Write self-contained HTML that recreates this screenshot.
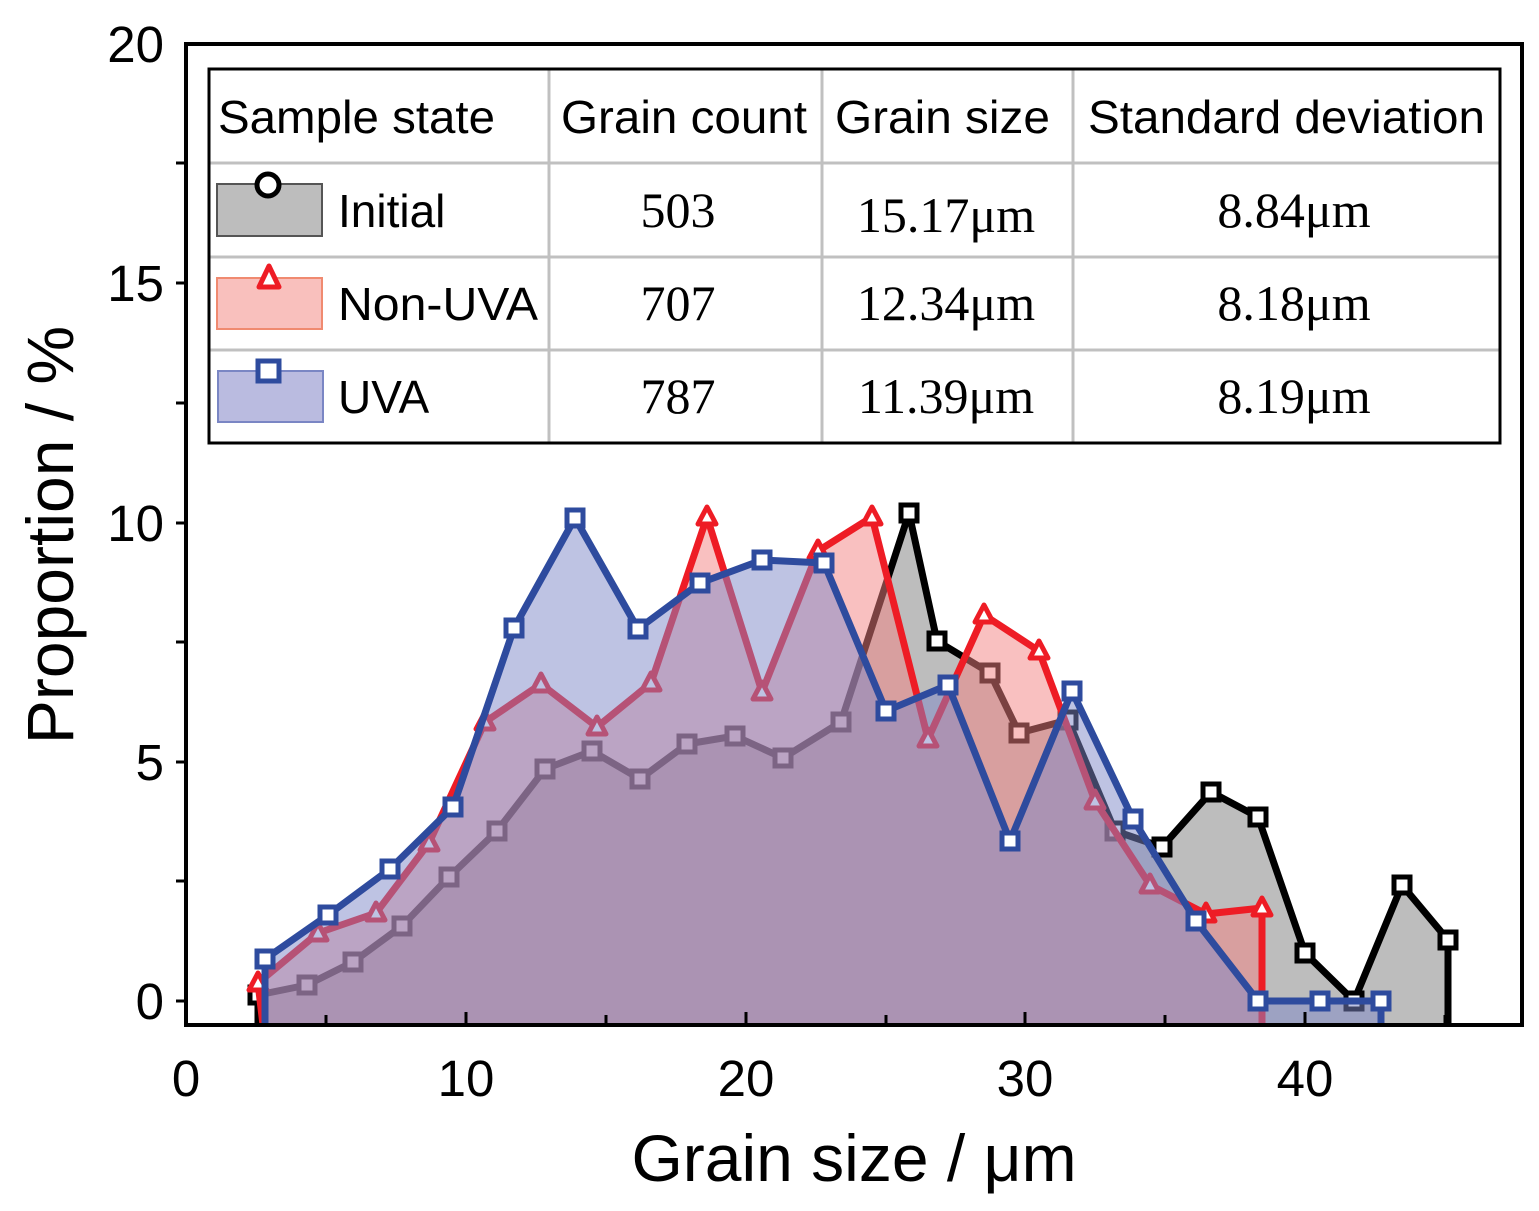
<!DOCTYPE html>
<html><head><meta charset="utf-8"><style>
html,body{margin:0;padding:0;background:#fff;}
svg{display:block;font-family:"Liberation Sans",sans-serif;}
</style></head><body>
<svg width="1539" height="1211" viewBox="0 0 1539 1211" xmlns="http://www.w3.org/2000/svg">
<defs><clipPath id="c"><rect x="186" y="44" width="1336" height="981"/></clipPath></defs>
<g clip-path="url(#c)">
<polygon fill="#bdbdbd" points="258,1025 258,995 307,985 353,962 402,926 449,877 497,831 545,769 592,751 640,779 687,744 735,736 783,758 841,722 909,513 937,641 990,673 1019,733 1068,720 1115,831 1162,847 1211,792 1258,817 1305,953 1354,1001 1402,885 1448,940 1448,1025"/>
<polyline fill="none" stroke="#000" stroke-width="7" stroke-linejoin="round" points="258,1025 258,995 307,985 353,962 402,926 449,877 497,831 545,769 592,751 640,779 687,744 735,736 783,758 841,722 909,513 937,641 990,673 1019,733 1068,720 1115,831 1162,847 1211,792 1258,817 1305,953 1354,1001 1402,885 1448,940 1448,1025"/>
<g fill="#fff" stroke="#000" stroke-width="5">
<rect x="250" y="987" width="16" height="16"/><rect x="299" y="977" width="16" height="16"/><rect x="345" y="954" width="16" height="16"/><rect x="394" y="918" width="16" height="16"/><rect x="441" y="869" width="16" height="16"/><rect x="489" y="823" width="16" height="16"/><rect x="537" y="761" width="16" height="16"/><rect x="584" y="743" width="16" height="16"/><rect x="632" y="771" width="16" height="16"/><rect x="679" y="736" width="16" height="16"/><rect x="727" y="728" width="16" height="16"/><rect x="775" y="750" width="16" height="16"/><rect x="833" y="714" width="16" height="16"/><rect x="901" y="505" width="16" height="16"/><rect x="929" y="633" width="16" height="16"/><rect x="982" y="665" width="16" height="16"/><rect x="1011" y="725" width="16" height="16"/><rect x="1060" y="712" width="16" height="16"/><rect x="1107" y="823" width="16" height="16"/><rect x="1154" y="839" width="16" height="16"/><rect x="1203" y="784" width="16" height="16"/><rect x="1250" y="809" width="16" height="16"/><rect x="1297" y="945" width="16" height="16"/><rect x="1346" y="993" width="16" height="16"/><rect x="1394" y="877" width="16" height="16"/><rect x="1440" y="932" width="16" height="16"/>
</g>
<polygon fill="rgba(244,130,130,0.5)" points="263,1025 258,983 318,933 376,913 429,843 485,722 541,684 597,727 651,683 707,517 762,692 818,551 872,517 928,739 984,615 1039,651 1095,801 1150,885 1206,914 1262,908 1262,1025"/>
<polyline fill="none" stroke="#ee1c25" stroke-width="7" stroke-linejoin="round" points="263,1025 258,983 318,933 376,913 429,843 485,722 541,684 597,727 651,683 707,517 762,692 818,551 872,517 928,739 984,615 1039,651 1095,801 1150,885 1206,914 1262,908 1262,1025"/>
<g fill="#fff" stroke="#ee1c25" stroke-width="5" stroke-linejoin="round">
<polygon points="258,973 249,990 267,990"/><polygon points="318,923 309,940 327,940"/><polygon points="376,903 367,920 385,920"/><polygon points="429,833 420,850 438,850"/><polygon points="485,712 476,729 494,729"/><polygon points="541,674 532,691 550,691"/><polygon points="597,717 588,734 606,734"/><polygon points="651,673 642,690 660,690"/><polygon points="707,507 698,524 716,524"/><polygon points="762,682 753,699 771,699"/><polygon points="818,541 809,558 827,558"/><polygon points="872,507 863,524 881,524"/><polygon points="928,729 919,746 937,746"/><polygon points="984,605 975,622 993,622"/><polygon points="1039,641 1030,658 1048,658"/><polygon points="1095,791 1086,808 1104,808"/><polygon points="1150,875 1141,892 1159,892"/><polygon points="1206,904 1197,921 1215,921"/><polygon points="1262,898 1253,915 1271,915"/>
</g>
<polygon fill="rgba(125,135,200,0.5)" points="265,1025 265,959 328,915 390,869 453,807 514,628 575,518 638,629 700,583 762,560 824,563 886,711 948,685 1010,841 1072,691 1133,819 1196,921 1258,1001 1320,1001 1381,1001 1381,1025"/>
<polyline fill="none" stroke="#2e4b9e" stroke-width="7" stroke-linejoin="round" points="265,1025 265,959 328,915 390,869 453,807 514,628 575,518 638,629 700,583 762,560 824,563 886,711 948,685 1010,841 1072,691 1133,819 1196,921 1258,1001 1320,1001 1381,1001 1381,1025"/>
<g fill="#fff" stroke="#2e4b9e" stroke-width="5">
<rect x="257" y="951" width="16" height="16"/><rect x="320" y="907" width="16" height="16"/><rect x="382" y="861" width="16" height="16"/><rect x="445" y="799" width="16" height="16"/><rect x="506" y="620" width="16" height="16"/><rect x="567" y="510" width="16" height="16"/><rect x="630" y="621" width="16" height="16"/><rect x="692" y="575" width="16" height="16"/><rect x="754" y="552" width="16" height="16"/><rect x="816" y="555" width="16" height="16"/><rect x="878" y="703" width="16" height="16"/><rect x="940" y="677" width="16" height="16"/><rect x="1002" y="833" width="16" height="16"/><rect x="1064" y="683" width="16" height="16"/><rect x="1125" y="811" width="16" height="16"/><rect x="1188" y="913" width="16" height="16"/><rect x="1250" y="993" width="16" height="16"/><rect x="1312" y="993" width="16" height="16"/><rect x="1373" y="993" width="16" height="16"/>
</g>
</g>
<rect x="186" y="44" width="1336" height="981" fill="none" stroke="#000" stroke-width="4"/>
<g stroke="#000" stroke-width="3">
<line x1="176" y1="1001" x2="186" y2="1001"/><line x1="176" y1="881" x2="186" y2="881"/><line x1="176" y1="762" x2="186" y2="762"/><line x1="176" y1="642" x2="186" y2="642"/><line x1="176" y1="523" x2="186" y2="523"/><line x1="176" y1="403" x2="186" y2="403"/><line x1="176" y1="283" x2="186" y2="283"/><line x1="176" y1="163" x2="186" y2="163"/>
<line x1="326" y1="1025" x2="326" y2="1015"/><line x1="466" y1="1025" x2="466" y2="1012"/><line x1="606" y1="1025" x2="606" y2="1015"/><line x1="746" y1="1025" x2="746" y2="1012"/><line x1="886" y1="1025" x2="886" y2="1015"/><line x1="1025" y1="1025" x2="1025" y2="1012"/><line x1="1165" y1="1025" x2="1165" y2="1015"/><line x1="1305" y1="1025" x2="1305" y2="1012"/><line x1="1445" y1="1025" x2="1445" y2="1015"/>
</g>
<g font-size="51" text-anchor="end">
<text x="164" y="1019">0</text><text x="164" y="780">5</text><text x="164" y="541">10</text><text x="164" y="301">15</text><text x="164" y="62">20</text>
</g>
<g font-size="51" text-anchor="middle">
<text x="186" y="1096">0</text><text x="466" y="1096">10</text><text x="746" y="1096">20</text><text x="1025" y="1096">30</text><text x="1305" y="1096">40</text>
</g>
<text x="854" y="1181" font-size="66" text-anchor="middle">Grain size / μm</text>
<text transform="translate(73,535) rotate(-90)" font-size="66" text-anchor="middle">Proportion / %</text>
<rect x="209" y="69" width="1291" height="374" fill="#fff"/>
<g stroke="#c0c0c0" stroke-width="3">
<line x1="209" y1="163" x2="1500" y2="163"/><line x1="209" y1="257" x2="1500" y2="257"/><line x1="209" y1="350" x2="1500" y2="350"/>
<line x1="549" y1="69" x2="549" y2="443"/><line x1="822" y1="69" x2="822" y2="443"/><line x1="1073" y1="69" x2="1073" y2="443"/>
</g>
<rect x="209" y="69" width="1291" height="374" fill="none" stroke="#000" stroke-width="3"/>
<rect x="217" y="184" width="105" height="52" fill="#bdbdbd" stroke="#555" stroke-width="2"/>
<circle cx="268" cy="185" r="11" fill="#fff" stroke="#000" stroke-width="5"/>
<rect x="217" y="278" width="105" height="51" fill="#f9c0bd" stroke="#f08a70" stroke-width="2"/>
<polygon points="269,266 259,287 279,287" fill="#fff" stroke="#ee1c25" stroke-width="5" stroke-linejoin="round"/>
<rect x="218" y="371" width="105" height="51" fill="#babbe0" stroke="#7a86c4" stroke-width="2"/>
<rect x="258" y="361" width="21" height="20" fill="#fff" stroke="#2e4b9e" stroke-width="5"/>
<g font-size="46">
<text x="218" y="133" textLength="277" lengthAdjust="spacingAndGlyphs">Sample state</text><text x="561" y="133" textLength="246" lengthAdjust="spacingAndGlyphs">Grain count</text><text x="835" y="133" textLength="215" lengthAdjust="spacingAndGlyphs">Grain size</text><text x="1088" y="133" textLength="397" lengthAdjust="spacingAndGlyphs">Standard deviation</text>
<text x="338" y="227">Initial</text><text x="338" y="320" textLength="200" lengthAdjust="spacingAndGlyphs">Non-UVA</text><text x="338" y="413">UVA</text>
</g>
<g font-size="50" font-family="Liberation Serif,serif" text-anchor="middle">
<text x="678" y="227">503</text><text x="678" y="320">707</text><text x="678" y="413">787</text>
<text x="946" y="232">15.17μm</text><text x="946" y="320">12.34μm</text><text x="946" y="413">11.39μm</text>
<text x="1294" y="227">8.84μm</text><text x="1294" y="320">8.18μm</text><text x="1294" y="413">8.19μm</text>
</g>
</svg>
</body></html>
